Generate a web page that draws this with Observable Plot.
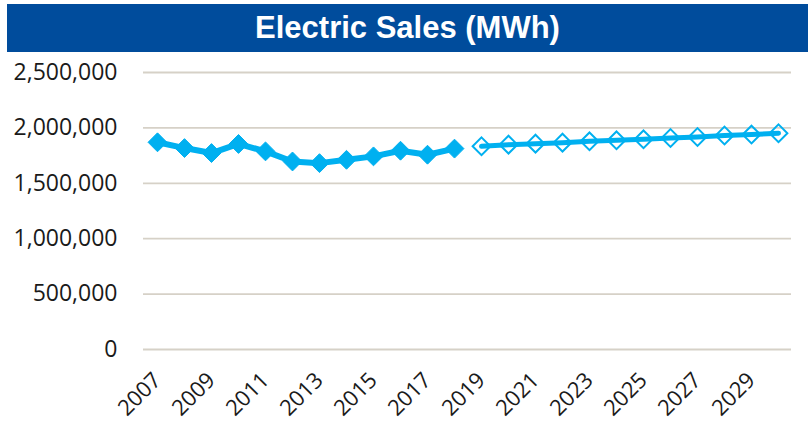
<!DOCTYPE html>
<html>
<head>
<meta charset="utf-8">
<script src="https://cdn.jsdelivr.net/npm/d3@7"></script>
<script src="https://cdn.jsdelivr.net/npm/@observablehq/plot@0.6"></script>
<style>
  html, body { margin: 0; padding: 0; background: #fff; }
  #wrap { width: 808px; height: 424px; position: relative; overflow: hidden; }
  #banner {
    position: absolute; left: 7px; top: 4px; width: 801px; height: 48px;
    background: #004C9C; color: #fff;
    font: bold 31px "Liberation Sans", Arial, sans-serif;
    text-align: center; line-height: 48px;
  }
  #chart { position: absolute; left: 0; top: 52px; }
</style>
</head>
<body>
<div id="wrap">
  <div id="banner">Electric Sales (MWh)</div>
  <div id="chart"></div>
</div>
<script>
const title = "Electric Sales (MWh)";
const allYears = [2007,2008,2009,2010,2011,2012,2013,2014,2015,2016,2017,2018,
                  2019,2020,2021,2022,2023,2024,2025,2026,2027,2028,2029,2030];
const histYears = [2007,2008,2009,2010,2011,2012,2013,2014,2015,2016,2017,2018];
const histValues = [1870000,1818000,1773000,1855000,1788000,1697000,1682000,1712000,1743000,1794000,1758000,1813000];
const fcstYears = [2019,2020,2021,2022,2023,2024,2025,2026,2027,2028,2029,2030];
const fcstValues = [1834000,1849000,1858000,1867000,1879000,1888000,1897000,1909000,1918000,1931000,1940000,1952000];
const xTicks = [2007,2009,2011,2013,2015,2017,2019,2021,2023,2025,2027,2029];
const yTicks = [0,500000,1000000,1500000,2000000,2500000];

const hist = histYears.map((y, i) => ({year: y, value: histValues[i]}));
const fcst = fcstYears.map((y, i) => ({year: y, value: fcstValues[i]}));

const color = "#00B0F0";
const fmt = d3.format(",");

const chart = Plot.plot({
  width: 808,
  height: 372,
  marginTop: 20,
  marginBottom: 75,
  marginLeft: 143,
  marginRight: 17,
  style: {fontFamily: "'Open Sans', sans-serif", fontSize: "22px", color: "#1a1a1a", background: "transparent"},
  x: {type: "point", domain: allYears, padding: 0.5, align: 0.5, label: null},
  y: {domain: [0, 2500000], label: null},
  marks: [
    Plot.ruleY(yTicks, {stroke: "#d6d1c7", strokeWidth: 1.8}),
    Plot.axisY({ticks: yTicks, tickFormat: fmt, tickSize: 0, tickPadding: 26, fontSize: 23, label: null}),
    Plot.axisX({ticks: xTicks, tickFormat: d => String(d), tickSize: 0, tickRotate: -45, tickPadding: 27, fontSize: 22, label: null, dx: 0}),
    Plot.lineY(hist, {x: "year", y: "value", stroke: color, strokeWidth: 6}),
    Plot.dot(hist, {x: "year", y: "value", symbol: "diamond2", r: 8.5, fill: color, stroke: color, strokeWidth: 1}),
    Plot.lineY(fcst, {x: "year", y: "value", stroke: color, strokeWidth: 5}),
    Plot.dot(fcst, {x: "year", y: "value", symbol: "diamond2", r: 8, fill: "none", stroke: color, strokeWidth: 2})
  ]
});
document.getElementById("chart").appendChild(chart);
</script>
</body>
</html>
